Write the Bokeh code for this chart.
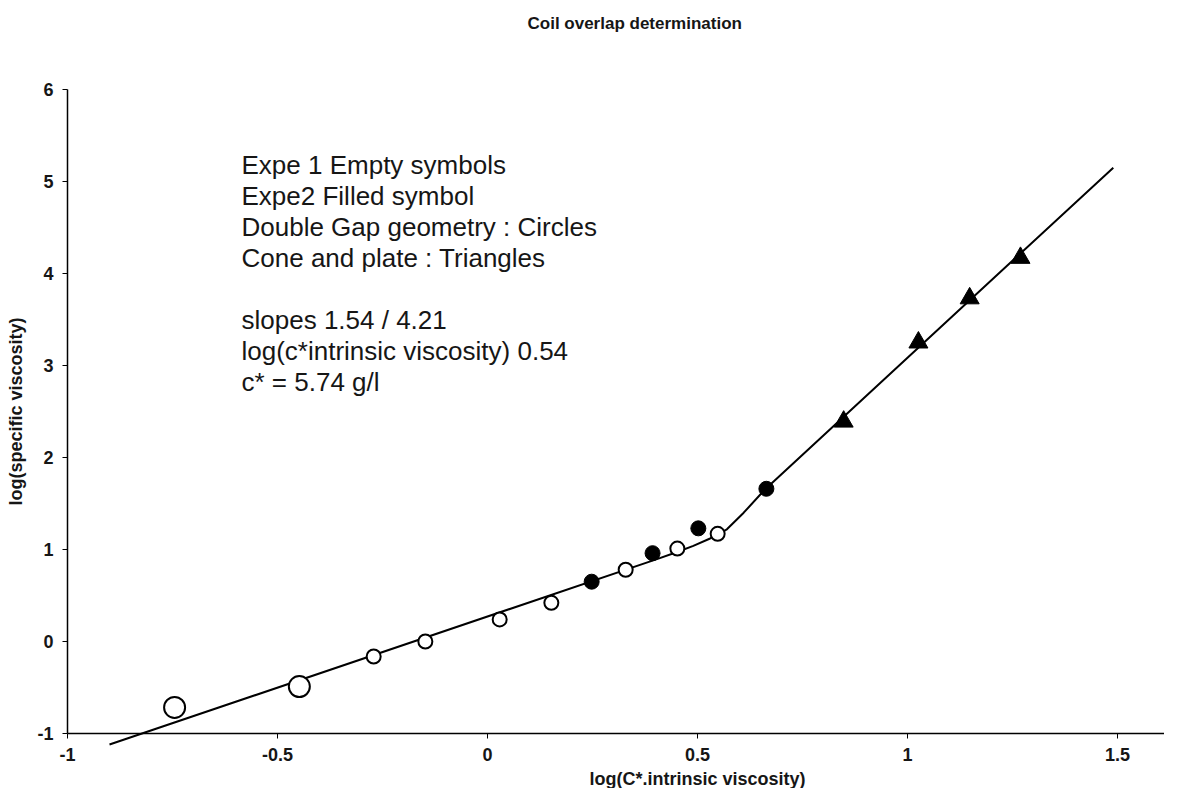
from bokeh.plotting import figure
from bokeh.models import Label, FixedTicker, LinearAxis, Range1d, Title
from bokeh.embed import file_html
from bokeh.resources import INLINE

# ---------------- data ----------------
# Expe 1, double gap geometry (empty circles), lowest concentrations (bigger symbols)
expe1_gap_big_x = [-0.745, -0.448]
expe1_gap_big_y = [-0.717, -0.49]
# Expe 1, double gap geometry (empty circles)
expe1_gap_x = [-0.271, -0.148, 0.029, 0.152, 0.329, 0.452, 0.548]
expe1_gap_y = [-0.163, 0.0, 0.24, 0.42, 0.78, 1.01, 1.17]
# Expe 2, double gap geometry (filled circles)
expe2_gap_x = [0.248, 0.393, 0.502, 0.664]
expe2_gap_y = [0.65, 0.96, 1.23, 1.66]
# Cone and plate (filled triangles)
cone_x = [0.848, 1.026, 1.148, 1.269]
cone_y = [2.39, 3.25, 3.73, 4.17]
# fitted master curve
fit_x = [-0.90, 0.40, 0.45, 0.49, 0.53, 0.57, 0.61, 0.66, 1.49]
fit_y = [-1.12, 0.89, 0.97, 1.04, 1.12, 1.22, 1.40, 1.65, 5.15]

x_ticks = [-1, -0.5, 0, 0.5, 1, 1.5]
x_tick_labels = ["-1", "-0.5", "0", "0.5", "1", "1.5"]
y_ticks = [-1, 0, 1, 2, 3, 4, 5, 6]
y_tick_labels = ["-1", "0", "1", "2", "3", "4", "5", "6"]

title_text = "Coil overlap determination"
x_label = "log(C*.intrinsic viscosity)"
y_label = "log(specific viscosity)"
notes = ["Expe 1 Empty symbols",
         "Expe2  Filled symbol",
         "Double Gap geometry : Circles",
         "Cone and plate : Triangles",
         "",
         "slopes 1.54 / 4.21",
         "log(c*intrinsic viscosity) 0.54",
         "c* = 5.74 g/l"]

# ---------------- figure ----------------
FONT = "Liberation Sans"
INK = "#161616"
W, H, TOP = 1164, 788, 40
PX_PER_X, PX_PER_Y = 420.0, 92.0      # scale of the reference axes
X0_PX, Y0_PX = 487.0, 641.0           # where x=0 / y=0 fall on the canvas

x_start = -X0_PX / PX_PER_X
x_end = (W - X0_PX) / PX_PER_X
y_end = (Y0_PX - TOP) / PX_PER_Y
y_start = (Y0_PX - H) / PX_PER_Y

p = figure(width=W, height=H,
           x_range=Range1d(x_start, x_end), y_range=Range1d(y_start, y_end),
           output_backend="svg", toolbar_location=None,
           x_axis_location=None, y_axis_location=None,
           min_border_left=0, min_border_right=0,
           min_border_top=TOP, min_border_bottom=0)
p.outline_line_color = None
p.xgrid.grid_line_color = None
p.ygrid.grid_line_color = None
p.background_fill_color = "white"
p.border_fill_color = "white"

p.title = Title(text=title_text, align="left", offset=527,
                vertical_align="top", standoff=12,
                text_font=FONT, text_font_size="17px",
                text_font_style="bold", text_color=INK)

def style_axis(ax):
    ax.axis_line_color = "black"
    ax.axis_line_width = 1.5
    ax.major_tick_line_color = "black"
    ax.major_tick_line_width = 1
    ax.major_tick_out = 5
    ax.major_tick_in = 0
    ax.minor_tick_line_color = None
    ax.major_label_text_font = FONT
    ax.major_label_text_font_size = "18px"
    ax.major_label_text_font_style = "bold"
    ax.major_label_text_color = INK

yaxis = LinearAxis(ticker=FixedTicker(ticks=y_ticks), fixed_location=-1,
                   bounds=(-1, 6),
                   major_label_overrides={t: l for t, l in zip(y_ticks, y_tick_labels)},
                   axis_label=y_label)
style_axis(yaxis)
yaxis.major_label_standoff = 9
yaxis.axis_label_text_font = FONT
yaxis.axis_label_text_font_size = "18px"
yaxis.axis_label_text_font_style = "bold"
yaxis.axis_label_text_color = INK
yaxis.axis_label_standoff = 8
p.add_layout(yaxis, "left")

xaxis = LinearAxis(ticker=FixedTicker(ticks=x_ticks), fixed_location=-1,
                   bounds=(-1, x_end),
                   major_label_overrides={t: l for t, l in zip(x_ticks, x_tick_labels)})
style_axis(xaxis)
xaxis.major_label_standoff = 9
p.add_layout(xaxis, "below")

# x axis title (centred under x = 0.5 as in the reference)
p.add_layout(Label(x=0.5, y=(Y0_PX - 778) / PX_PER_Y, text=x_label,
                   text_align="center", text_baseline="middle",
                   text_font=FONT, text_font_size="18px",
                   text_font_style="bold", text_color=INK))

# fitted curve
p.line(fit_x, fit_y, line_color="black", line_width=2)

# symbols
p.scatter(expe1_gap_big_x, expe1_gap_big_y, marker="circle", size=21,
          fill_color="white", line_color="black", line_width=2)
p.scatter(expe1_gap_x, expe1_gap_y, marker="circle", size=14,
          fill_color="white", line_color="black", line_width=2)
p.scatter(expe2_gap_x, expe2_gap_y, marker="circle", size=15,
          fill_color="black", line_color="black", line_width=1)
p.scatter(cone_x, cone_y, marker="triangle", size=19,
          fill_color="black", line_color="black", line_width=1)

# annotation block (left edge at 241 px, first line centred at 164 px)
note_x = (241 - X0_PX) / PX_PER_X
note_top = (Y0_PX - 164) / PX_PER_Y
note_step = 31 / PX_PER_Y
for i, line in enumerate(notes):
    if not line:
        continue
    p.add_layout(Label(x=note_x, y=note_top - i * note_step, text=line,
                       text_align="left", text_baseline="middle",
                       text_font=FONT, text_font_size="26px",
                       text_color=INK))

open("out.html", "w").write(file_html(p, INLINE))
